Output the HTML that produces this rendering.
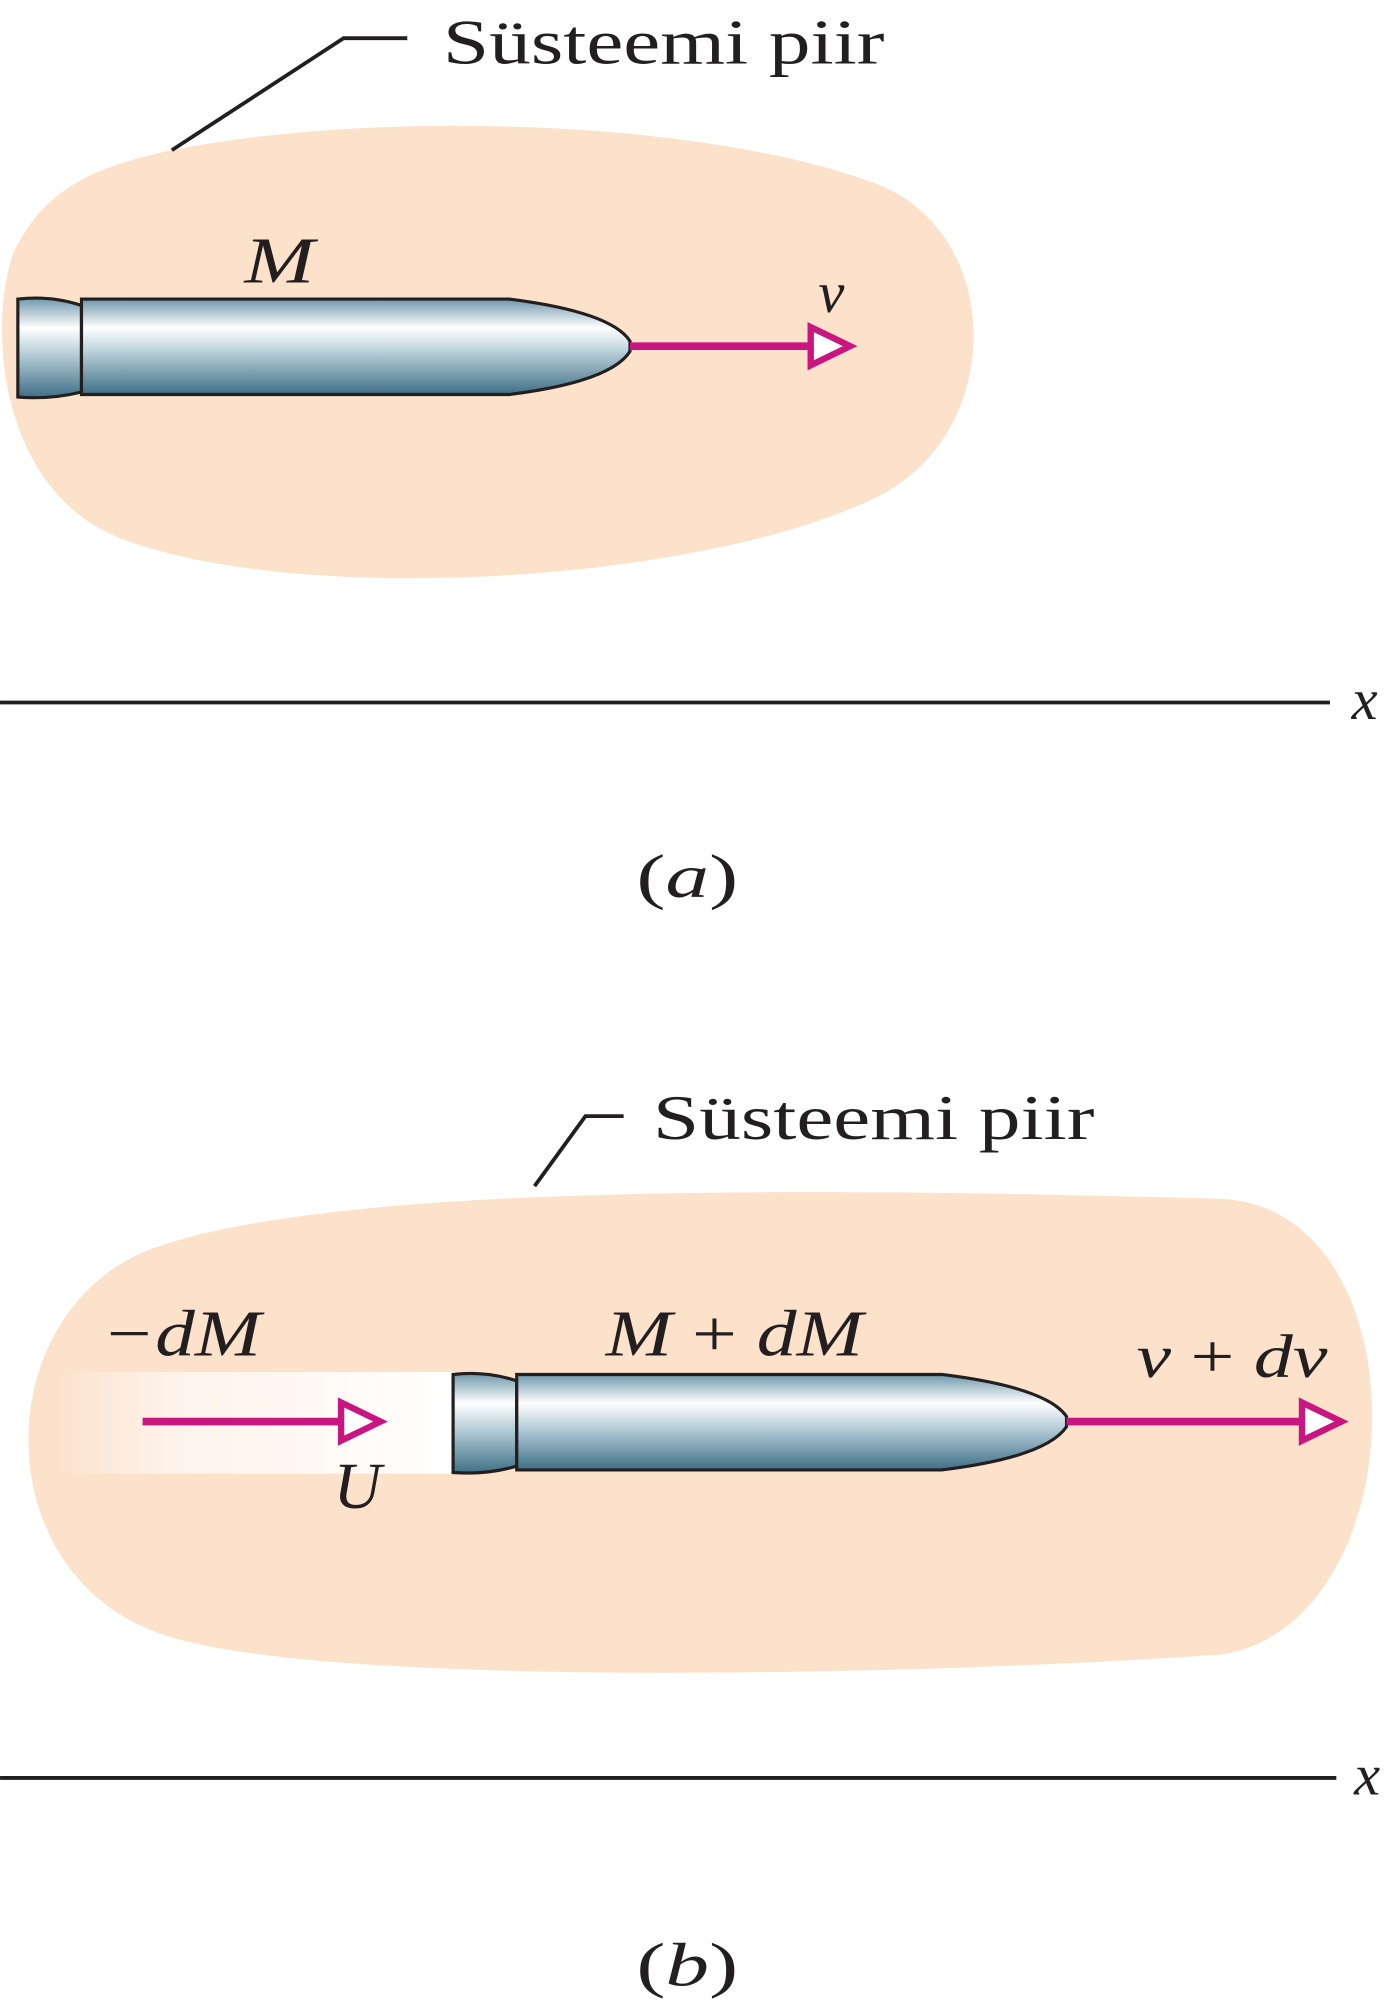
<!DOCTYPE html>
<html><head><meta charset="utf-8"><style>
html,body{margin:0;padding:0;background:#fff;}
svg{display:block}
text{font-family:"Liberation Serif",serif;fill:#231f20}
.i{font-style:italic}
</style></head><body>
<svg width="1400" height="2007" viewBox="0 0 1100 1577" xmlns="http://www.w3.org/2000/svg">
<defs>
<linearGradient id="bd" x1="0" y1="0" x2="0" y2="1">
<stop offset="0" stop-color="#6f98ab"/><stop offset="0.3" stop-color="#ffffff"/><stop offset="0.55" stop-color="#b9d0da"/><stop offset="1" stop-color="#3f6f86"/>
</linearGradient>
<linearGradient id="ex" x1="0" y1="0" x2="1" y2="0">
<stop offset="0" stop-color="#fff" stop-opacity="0"/><stop offset="0.3" stop-color="#fff" stop-opacity="0.6"/><stop offset="1" stop-color="#fff" stop-opacity="1"/>
</linearGradient>
</defs>
<!-- (a) -->
<path d="M135,118 C300,85 560,95 690,145 C790,185 790,340 690,390 C560,455 250,478 100,425 C0,390 -10,260 10,200 C35,145 80,130 135,118 Z" fill="#fce1cb"/>
<polyline points="135,118 270,30 320,30" fill="none" stroke="#231f20" stroke-width="3"/>
<text x="348" y="50" font-size="50" textLength="347" lengthAdjust="spacingAndGlyphs">Süsteemi piir</text>
<path d="M14,235 Q40,232 64,240 L64,308 Q40,314 14,312 Z" fill="url(#bd)" stroke="#231f20" stroke-width="2.5"/>
<path d="M64,235 L400,235 Q480,245 495,268 L495,276 Q480,300 400,310 L64,310 Z" fill="url(#bd)" stroke="#231f20" stroke-width="2.5"/>
<line x1="495" y1="272" x2="640" y2="272" stroke="#c8157f" stroke-width="6"/>
<polygon points="637,257 668,272 637,287" fill="#fff" stroke="#c8157f" stroke-width="5"/>
<text x="192" y="222" font-size="52" class="i" textLength="55" lengthAdjust="spacingAndGlyphs">M</text>
<text x="643" y="245" font-size="46" class="i">v</text>
<line x1="0" y1="552" x2="1045" y2="552" stroke="#231f20" stroke-width="3"/>
<text x="1062" y="565" font-size="46" class="i">x</text>
<text x="500" y="705" font-size="48" textLength="80" lengthAdjust="spacingAndGlyphs">(<tspan class="i">a</tspan>)</text>
<!-- (b) -->
<path d="M110,985 C250,925 700,935 960,942 C1120,950 1115,1275 960,1300 C700,1318 250,1325 130,1285 C-10,1240 -10,1040 110,985 Z" fill="#fce1cb"/>
<polyline points="420,932 460,877 490,877" fill="none" stroke="#231f20" stroke-width="3"/>
<text x="513" y="895" font-size="50" textLength="347" lengthAdjust="spacingAndGlyphs">Süsteemi piir</text>
<rect x="40" y="1078" width="318" height="80" fill="url(#ex)"/>
<line x1="112" y1="1117" x2="272" y2="1117" stroke="#c8157f" stroke-width="6"/>
<polygon points="268,1102 299,1117 268,1132" fill="#fff" stroke="#c8157f" stroke-width="5"/>
<path d="M356,1080 Q382,1077 406,1085 L406,1152 Q382,1159 356,1157 Z" fill="url(#bd)" stroke="#231f20" stroke-width="2.5"/>
<path d="M406,1080 L740,1080 Q822,1090 838,1113 L838,1121 Q822,1145 740,1155 L406,1155 Z" fill="url(#bd)" stroke="#231f20" stroke-width="2.5"/>
<line x1="838" y1="1117" x2="1026" y2="1117" stroke="#c8157f" stroke-width="6"/>
<polygon points="1023,1102 1054,1117 1023,1132" fill="#fff" stroke="#c8157f" stroke-width="5"/>
<text x="80" y="1065" font-size="52" class="i" textLength="125" lengthAdjust="spacingAndGlyphs">−dM</text>
<text x="476" y="1065" font-size="52" textLength="202" lengthAdjust="spacingAndGlyphs"><tspan class="i">M</tspan> + <tspan class="i">dM</tspan></text>
<text x="893" y="1082" font-size="48" textLength="150" lengthAdjust="spacingAndGlyphs"><tspan class="i">v</tspan> + <tspan class="i">dv</tspan></text>
<text x="262" y="1185" font-size="52" class="i">U</text>
<line x1="0" y1="1397" x2="1050" y2="1397" stroke="#231f20" stroke-width="3"/>
<text x="1064" y="1410" font-size="46" class="i">x</text>
<text x="500" y="1560" font-size="48" textLength="80" lengthAdjust="spacingAndGlyphs">(<tspan class="i">b</tspan>)</text>
</svg>
</body></html>
